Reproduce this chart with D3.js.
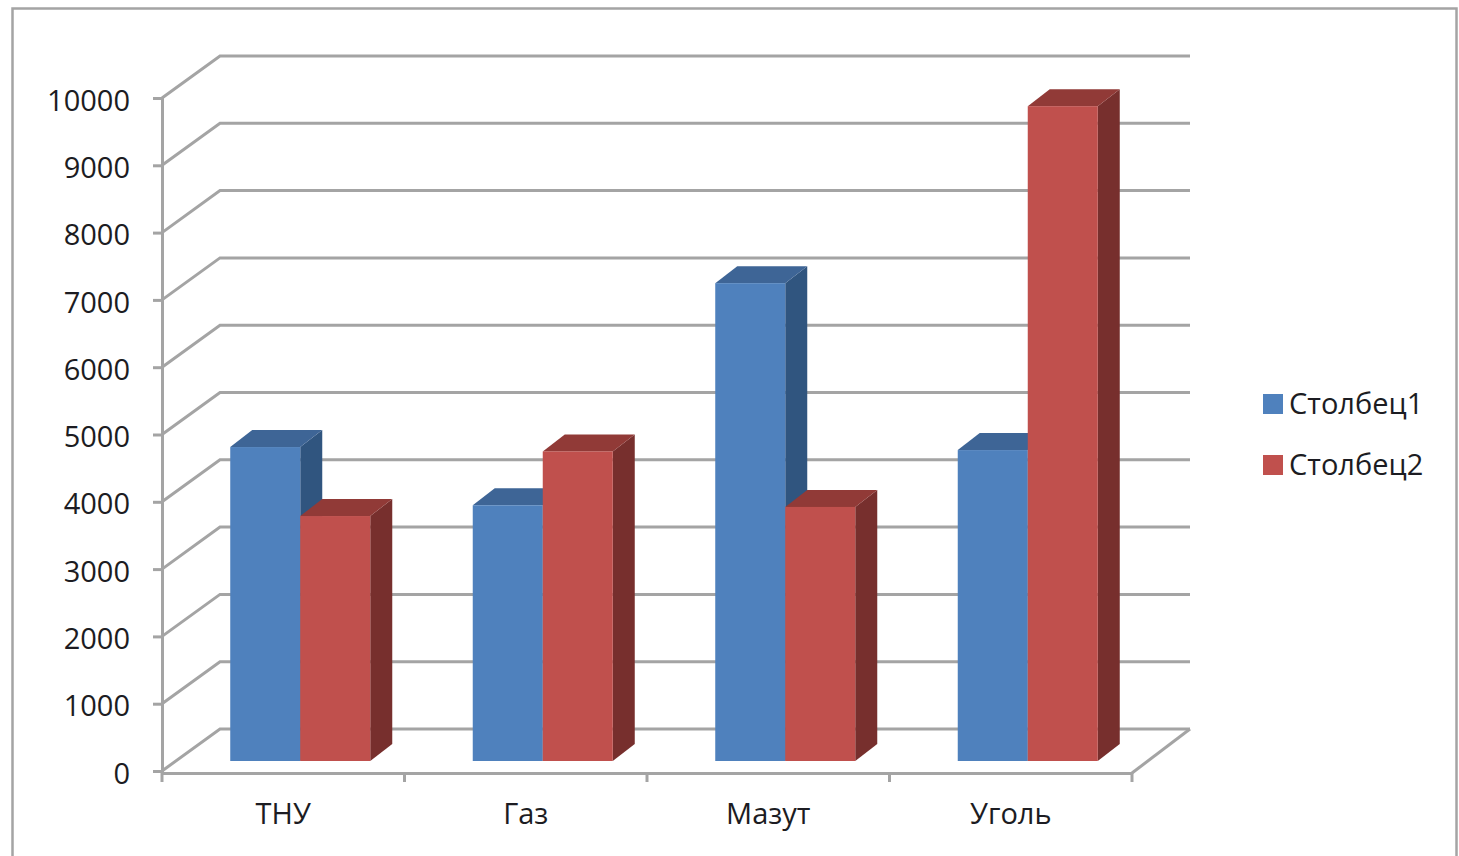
<!DOCTYPE html>
<html lang="ru">
<head>
<meta charset="utf-8">
<title>Столбец1 и Столбец2</title>
<script src="https://cdn.jsdelivr.net/npm/d3@7"></script>
<style>
  html, body { margin: 0; padding: 0; background: #fff; overflow: hidden; }
  svg { display: block; }
  text { font-family: "Open Sans", "Noto Sans", sans-serif; fill: #1c1c22; }
</style>
</head>
<body>
<svg id="chart" width="1459" height="856"></svg>
<script>
// Chart values
const categories = ["ТНУ", "Газ", "Мазут", "Уголь"];
const seriesNames = ["Столбец1", "Столбец2"];
const series1 = [4665, 3800, 7100, 4620];
const series2 = [3640, 4600, 3775, 9730];
const yTicks = [0, 1000, 2000, 3000, 4000, 5000, 6000, 7000, 8000, 9000, 10000];

// Palette: front, top and side face of each series, plus structural grey
const faceColors = [
  { front: "#4f81bd", top: "#3e6596", side: "#30557f" },
  { front: "#c0504d", top: "#913a37", side: "#772f2d" }
];
const lineGrey = "#a4a4a4";
const labelSize = 29;

const svg = d3.select("#chart");

// Plot extents on the front plane
const plot = { left: 162, right: 1132, top: 98, bottom: 771 };
// Projection offsets: full chart depth, bar placement and bar depth
const wall = { dx: 58, dy: -42 };
const barShift = { dx: 17, dy: -10 };
const barDepth = { dx: 22, dy: -17 };

const y = d3.scaleLinear().domain([0, 10000]).range([plot.bottom, plot.top]);
const x = d3.scaleBand().domain(categories).range([plot.left, plot.right]);
const xInner = d3.scaleBand().domain(d3.range(seriesNames.length))
  .range([0, x.bandwidth()]).paddingInner(0).paddingOuter(0.732);

// Outer chart frame
svg.append("rect")
  .attr("x", 12.5).attr("y", 8.5)
  .attr("width", 1444).attr("height", 900)
  .attr("fill", "#fff").attr("stroke", lineGrey).attr("stroke-width", 2.5);

// Gridlines across the back wall and along the left wall
const grid = svg.append("g").attr("fill", "none").attr("stroke", lineGrey).attr("stroke-width", 3);
grid.selectAll("path").data(yTicks).join("path")
  .attr("d", v => {
    const p = d3.path();
    p.moveTo(plot.left, y(v));
    p.lineTo(plot.left + wall.dx, y(v) + wall.dy);
    p.lineTo(plot.right + wall.dx, y(v) + wall.dy);
    return p.toString();
  });

// Right edge of the floor
const floor = d3.path();
floor.moveTo(plot.right, plot.bottom + 2);
floor.lineTo(plot.right + wall.dx, plot.bottom + wall.dy);
svg.append("path").attr("d", floor.toString())
  .attr("fill", "none").attr("stroke", lineGrey).attr("stroke-width", 3);

// Vertical axis
const yAxis = d3.axisLeft(y).tickValues(yTicks).tickFormat(d3.format("d"))
  .tickSize(9).tickPadding(23);
const yG = svg.append("g").attr("transform", `translate(${plot.left},0)`).call(yAxis);
yG.selectAll("text").attr("dy", "0.42em");

// Category axis: labels sit mid-band, tick marks on the band edges
const xAxis = d3.axisBottom(x).tickSize(0).tickPadding(30);
const xG = svg.append("g").attr("transform", `translate(0,${plot.bottom + 2})`).call(xAxis);
const edges = d3.range(categories.length + 1).map(i => plot.left + i * x.step());
xG.selectAll("line.edge").data(edges).join("line")
  .attr("class", "edge")
  .attr("x1", d => d).attr("x2", d => d)
  .attr("y1", 0).attr("y2", 9)
  .attr("stroke", lineGrey).attr("stroke-width", 3);

[yG, xG].forEach(g => {
  g.selectAll(".domain").attr("stroke", lineGrey).attr("stroke-width", 3);
  g.selectAll(".tick line").attr("stroke", lineGrey).attr("stroke-width", 3);
  g.selectAll("text").attr("font-size", labelSize)
    .attr("font-family", '"Open Sans", "Noto Sans", sans-serif').attr("fill", "#1c1c22");
});

// Bars, drawn as three faces each, first series before second so overlaps stack correctly
const bars = categories.flatMap((c, i) => [series1[i], series2[i]].map((v, s) => {
  const x0 = x(c) + xInner(s) + barShift.dx;
  return {
    x0, x1: x0 + xInner.bandwidth(),
    yTop: y(v) + barShift.dy, yBase: y(0) + barShift.dy, s
  };
}));

const poly = pts => d3.line()(pts) + "Z";
const barG = svg.append("g").selectAll("g").data(bars).join("g");

barG.append("path").attr("fill", d => faceColors[d.s].side).attr("d", d => poly([
  [d.x1, d.yTop], [d.x1 + barDepth.dx, d.yTop + barDepth.dy],
  [d.x1 + barDepth.dx, d.yBase + barDepth.dy], [d.x1, d.yBase]
]));
barG.append("path").attr("fill", d => faceColors[d.s].top).attr("d", d => poly([
  [d.x0, d.yTop], [d.x0 + barDepth.dx, d.yTop + barDepth.dy],
  [d.x1 + barDepth.dx, d.yTop + barDepth.dy], [d.x1, d.yTop]
]));
barG.append("rect").attr("fill", d => faceColors[d.s].front)
  .attr("x", d => d.x0).attr("y", d => d.yTop)
  .attr("width", d => d.x1 - d.x0).attr("height", d => d.yBase - d.yTop);

// Legend
const legend = svg.append("g").selectAll("g").data(seriesNames).join("g")
  .attr("transform", (d, i) => `translate(1263,${394 + i * 61})`);
legend.append("rect").attr("width", 20).attr("height", 20)
  .attr("fill", (d, i) => faceColors[i].front);
legend.append("text").attr("x", 26).attr("y", 20).attr("font-size", labelSize).text(d => d);
</script>
</body>
</html>
